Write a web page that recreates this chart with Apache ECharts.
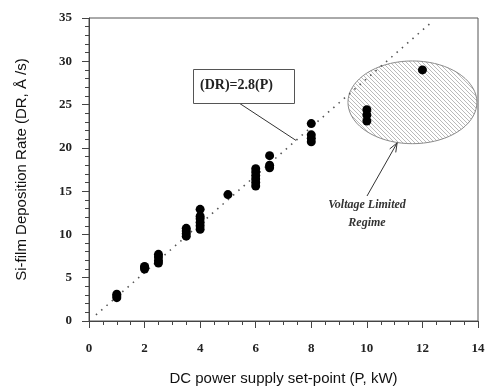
<!DOCTYPE html>
<html>
<head>
<meta charset="utf-8">
<script src="https://cdn.jsdelivr.net/npm/echarts@6/dist/echarts.min.js"></script>
<style>
html,body{margin:0;padding:0;background:#fff;}
#chart{width:492px;height:391px;}
</style>
</head>
<body>
<div id="chart"></div>
<script>
// Measured deposition rates at each power set-point
const powerSetPoints = [1, 1, 1, 2, 2, 2, 2.5, 2.5, 2.5, 2.5, 3.5, 3.5, 3.5, 3.5,
  4, 4, 4, 4, 4, 4, 5, 6, 6, 6, 6, 6, 6, 6.5, 6.5, 6.5, 8, 8, 8, 8, 10, 10, 10, 12];
const depositionRates = [2.7, 2.9, 3.1, 6.0, 6.2, 6.3, 6.7, 7.0, 7.4, 7.7, 9.8, 10.1, 10.4, 10.7,
  10.6, 11.0, 11.4, 11.8, 12.1, 12.9, 14.6, 15.6, 16.0, 16.4, 16.8, 17.2, 17.6, 17.7, 18.0, 19.1,
  20.7, 21.1, 21.5, 22.8, 23.1, 23.8, 24.4, 29.0];

// Linear fit DR = 2.8 P
const fitSlope = 2.8;
const fitRange = [0.25, 12.3];

// Voltage-limited regime region (centre and half-widths in data units)
const regimeCenter = [11.64, 25.26];
const regimeRadii = [2.32, 4.78];

const xTicks = {min: 0, max: 14, interval: 2};
const yTicks = {min: 0, max: 35, interval: 5};

const chart = echarts.init(document.getElementById('chart'));

// diagonal hatch pattern for the regime region
const hatch = document.createElement('canvas');
hatch.width = 4; hatch.height = 4;
(function () {
  const c = hatch.getContext('2d');
  c.fillStyle = '#fff';
  c.fillRect(0, 0, 4, 4);
  c.strokeStyle = '#a8a8a8';
  c.lineWidth = 0.8;
  c.beginPath();
  c.moveTo(0, 0); c.lineTo(4, 4);
  c.moveTo(-1, 3); c.lineTo(1, 5);
  c.moveTo(3, -1); c.lineTo(5, 1);
  c.stroke();
})();

const scatterData = powerSetPoints.map((p, i) => [p, depositionRates[i]]);
const fitData = fitRange.map(p => [p, fitSlope * p]);

const serifLabel = {fontFamily: 'Liberation Serif', fontWeight: 'bold', fontSize: 13, color: '#222'};

chart.setOption({
  animation: false,
  grid: {left: 89, top: 18, right: 14, bottom: 69, show: true, borderColor: '#555', borderWidth: 1},
  xAxis: {
    type: 'value', min: xTicks.min, max: xTicks.max, interval: xTicks.interval,
    name: 'DC power supply set-point (P, kW)', nameLocation: 'middle', nameGap: 50,
    nameTextStyle: {fontFamily: 'Liberation Sans', fontSize: 15, color: '#111'},
    axisLine: {lineStyle: {color: '#444', width: 1}},
    axisTick: {inside: false, length: 7, lineStyle: {color: '#444'}},
    minorTick: {show: true, splitNumber: 4, length: 4, lineStyle: {color: '#444'}},
    splitLine: {show: false},
    axisLabel: Object.assign({margin: 21}, serifLabel)
  },
  yAxis: {
    type: 'value', min: yTicks.min, max: yTicks.max, interval: yTicks.interval,
    name: 'Si-film Deposition Rate (DR, Å /s)', nameLocation: 'middle', nameGap: 60,
    nameTextStyle: {fontFamily: 'Liberation Sans', fontSize: 15, color: '#111'},
    axisLine: {lineStyle: {color: '#444', width: 1}},
    axisTick: {inside: false, length: 7, lineStyle: {color: '#444'}},
    minorTick: {show: true, splitNumber: 5, length: 4, lineStyle: {color: '#444'}},
    splitLine: {show: false},
    axisLabel: Object.assign({margin: 17}, serifLabel)
  },
  series: [
    {
      type: 'custom',
      z: 1,
      renderItem: function (params, api) {
        const pts = [];
        for (let k = 0; k < 72; k++) {
          const a = k / 72 * Math.PI * 2;
          pts.push(api.coord([regimeCenter[0] + regimeRadii[0] * Math.cos(a),
                              regimeCenter[1] + regimeRadii[1] * Math.sin(a)]));
        }
        return {
          type: 'polygon',
          shape: {points: pts},
          style: {fill: {image: hatch, repeat: 'repeat'}, stroke: '#8a8a8a', lineWidth: 1}
        };
      },
      data: [regimeCenter],
      silent: true
    },
    {
      type: 'line',
      data: fitData,
      symbol: 'none',
      z: 2,
      lineStyle: {color: '#555', width: 1.6, type: [1.5, 5.5]},
      silent: true
    },
    {
      type: 'scatter',
      data: scatterData,
      symbol: 'circle',
      symbolSize: 9,
      z: 3,
      itemStyle: {color: '#000', opacity: 1}
    },
    {
      // callout lines for the annotations
      type: 'custom',
      z: 4,
      renderItem: function (params, api) {
        const onFit = api.coord([7.45, fitSlope * 7.45]);
        const boxAnchor = [239, 103];
        const ellBottom = api.coord([regimeCenter[0] - 0.55, regimeCenter[1] - regimeRadii[1] * 0.98]);
        const textAnchor = [367, 196];
        const dx = ellBottom[0] - textAnchor[0], dy = ellBottom[1] - textAnchor[1];
        const len = Math.sqrt(dx * dx + dy * dy);
        const ux = dx / len, uy = dy / len;
        const hl = 9, hw = 3.5;
        const h1 = [ellBottom[0] - ux * hl - uy * hw, ellBottom[1] - uy * hl + ux * hw];
        const h2 = [ellBottom[0] - ux * hl + uy * hw, ellBottom[1] - uy * hl - ux * hw];
        return {
          type: 'group',
          children: [
            {type: 'line', shape: {x1: boxAnchor[0], y1: boxAnchor[1], x2: onFit[0], y2: onFit[1]},
             style: {stroke: '#333', lineWidth: 1}},
            {type: 'line', shape: {x1: textAnchor[0], y1: textAnchor[1], x2: ellBottom[0], y2: ellBottom[1]},
             style: {stroke: '#333', lineWidth: 1}},
            {type: 'polyline', shape: {points: [h1, ellBottom, h2]},
             style: {stroke: '#333', lineWidth: 1, fill: null}}
          ]
        };
      },
      data: [[0, 0]],
      silent: true
    }
  ],
  graphic: [
    {
      type: 'rect', left: 193, top: 69, z: 10,
      shape: {width: 101, height: 34},
      style: {fill: '#fff', stroke: '#555', lineWidth: 1}
    },
    {
      type: 'text', left: 200, top: 78, z: 11,
      style: {text: '(DR)=2.8(P)', font: 'bold 14px "Liberation Serif"', fill: '#222'}
    },
    {
      type: 'text', x: 367, y: 205, z: 11,
      style: {text: 'Voltage Limited', font: 'italic bold 12px "Liberation Serif"', fill: '#333',
              align: 'center', verticalAlign: 'middle'}
    },
    {
      type: 'text', x: 367, y: 223, z: 11,
      style: {text: 'Regime', font: 'italic bold 12px "Liberation Serif"', fill: '#333',
              align: 'center', verticalAlign: 'middle'}
    }
  ]
});
</script>
</body>
</html>
